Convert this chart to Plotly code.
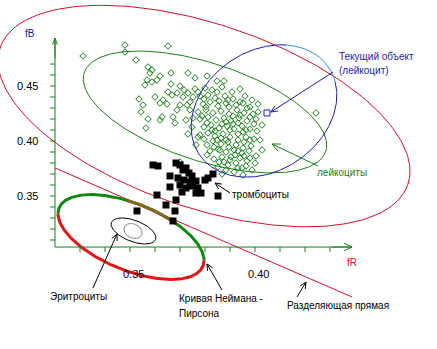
import numpy as np
import plotly.graph_objects as go

# ---------------- data ----------------
# leukocytes (fR, fB)
leuko_x = [0.3312,0.348,0.348,0.3652,0.3524,0.3572,0.3588,0.358,0.362,0.3608,0.3588,0.3568,0.356,0.3664,0.3732,0.376,0.3808,0.3848,0.3876,0.3664,
           0.37,0.3716,0.3652,0.3668,0.3688,0.3632,0.362,0.3648,0.36,0.3536,0.3552,0.3544,0.3628,0.362,0.3572,0.3672,0.368,0.3564,0.3688,0.37,
           0.3728,0.374,0.3752,0.3772,0.376,0.3712,0.3732,0.3732,0.3772,0.3808,0.3848,0.37,0.4244,
           0.38,0.3828,0.3868,0.3908,0.394,
           0.378,0.3812,0.384,0.388,0.3912,0.396,0.3988,
           0.3792,0.382,0.3852,0.3884,0.3924,0.3952,0.398,0.4012,
           0.3772,0.3804,0.3832,0.3864,0.3896,0.3928,0.3956,0.3992,
           0.378,0.3812,0.3844,0.3876,0.3904,0.3936,0.3968,0.4004,0.4028,
           0.3796,0.3824,0.3856,0.3888,0.3916,0.3948,0.398,0.4008,
           0.378,0.3812,0.384,0.3872,0.39,0.3932,0.3964,0.3996,
           0.3832,0.3864,0.3892,0.3924,0.3956,0.3984,
           0.382,0.3852,0.3884,0.3916,0.3948,0.3976,0.4004,
           0.3836,0.3868,0.39,0.394,0.3968,0.4,
           0.3852,0.3892,0.3932,0.3964,0.3988,
           0.3868,0.3916,0.3952,
           0.374,0.3752,0.3748,0.3724,0.3764,0.3808,
           0.3796,0.3856,0.3896,0.394,0.3884,0.3828,0.3912,0.3964,0.3864,0.3932,0.3836,0.3896,0.3952,0.3876,0.392,0.398,
           0.3848,0.3892,0.394,0.3804,0.3968,0.3788,0.3912,0.398,0.3808,0.3868,0.3932,0.3996,0.384,0.39,0.3952,
           0.3796,0.3884,0.398,0.386,0.3932,0.3904,0.3956,0.3856,0.3924,0.3948,0.3884,0.402,0.4028,0.4012]
leuko_y = [0.4773,0.4873,0.4809,0.4864,0.4736,0.4673,0.4645,0.4618,0.4591,0.4555,0.4536,0.4555,0.4509,0.4618,0.4618,0.4573,0.4591,0.4545,0.4545,0.4518,
           0.45,0.4464,0.4445,0.4418,0.4436,0.4373,0.4345,0.4336,0.44,0.4382,0.4327,0.4264,0.4218,0.4191,0.42,0.4218,0.4164,0.4118,0.4282,0.4327,
           0.4327,0.4355,0.44,0.4445,0.4473,0.44,0.4436,0.4064,0.4036,0.3964,0.4009,0.3809,0.4255,
           0.4482,0.4464,0.4491,0.4445,0.4473,
           0.4409,0.4418,0.4391,0.4409,0.4382,0.4409,0.4373,
           0.4336,0.4355,0.4318,0.4345,0.4327,0.4345,0.4309,0.4336,
           0.4264,0.4282,0.4255,0.4273,0.4245,0.4282,0.4255,0.4245,
           0.42,0.4218,0.4191,0.4209,0.4182,0.4209,0.4182,0.42,0.4145,
           0.4127,0.4145,0.4118,0.4136,0.4109,0.4136,0.4109,0.4091,
           0.4055,0.4073,0.4045,0.4064,0.4036,0.4064,0.4036,0.4018,
           0.4,0.3973,0.3991,0.3964,0.3991,0.3955,
           0.3909,0.3927,0.39,0.3918,0.3891,0.3909,0.3864,
           0.3836,0.3855,0.3827,0.3845,0.3818,0.38,
           0.3764,0.3782,0.3755,0.3773,0.3736,
           0.37,0.3718,0.3691,
           0.4282,0.4209,0.4127,0.4191,0.3964,0.3873,
           0.4382,0.4364,0.4309,0.4236,0.4173,0.41,0.4155,0.41,0.4027,0.4009,0.3945,0.3945,0.3936,0.3809,0.3873,0.3845,
           0.4445,0.4373,0.4355,0.4309,0.43,0.4227,0.4227,0.4218,0.4164,0.4155,0.4164,0.4155,0.4091,0.41,0.4082,
           0.4018,0.4009,0.4009,0.3918,0.3909,0.3855,0.3864,0.3809,0.38,0.3755,0.3736,0.4009,0.3918,0.4264]

# thrombocytes (fR, fB)
thromb_x = [0.3592,0.3612,0.3684,0.37,0.3712,0.3736,0.3724,0.366,0.3748,0.3692,0.3716,0.374,0.3764,0.38,0.3812,0.3832,
            0.366,0.37,0.3724,0.3748,0.3772,0.3708,0.3764,0.3784,0.3608,0.3852,0.3684,0.3644,0.3528,0.368,0.3672]
thromb_y = [0.3782,0.3773,0.38,0.3782,0.3736,0.3709,0.3755,0.3682,0.3682,0.3664,0.3645,0.3627,0.3636,0.3645,0.3664,0.37,
            0.3582,0.36,0.3573,0.3591,0.3573,0.3536,0.3527,0.3527,0.3509,0.35,0.3464,0.3418,0.3364,0.3364,0.3273]

# current object
current_x = [0.4048]
current_y = [0.4255]

# ellipses: centre (fR, fB), semi-axes (screen px), tilt (deg)
ell_outer = dict(cx=0.3796, cy=0.4227, a=215, b=92, th=18.5)
ell_leuko = dict(cx=0.3800, cy=0.4264, a=127, b=49, th=18)
ell_curr  = dict(cx=0.4036, cy=0.4273, a=78, b=60, th=-34)
ell_eryth1 = dict(cx=0.3514, cy=0.3182, a=23.7, b=10.6, th=21)
ell_eryth2 = dict(cx=0.3512, cy=0.3182, a=9.5, b=7, th=25)
ell_np = dict(cx=0.3504, cy=0.3127, a=77.6, b=33.4, th=22)

# separating line end points
sep_x = [0.3200, 0.4388]
sep_y = [0.3755, 0.2582]

# axes
x_ticks = [0.33,0.34,0.35,0.36,0.37,0.38,0.39,0.40,0.41,0.42,0.43]
y_ticks = [0.31,0.32,0.33,0.34,0.35,0.36,0.37,0.38,0.39,0.40,0.41,0.42,0.43,0.44,0.45,0.46,0.47]
x_labels = [0.35, 0.40]
y_labels = [0.35, 0.40, 0.45]
x_origin, y_origin = 0.32, 0.3036
x_end, y_end = 0.4388, 0.4936

# ---------------- geometry helpers ----------------
W, H = 437, 349
XR = [0.298, 0.4728]
YR = [0.2109, 0.5282]
KX = W / (XR[1] - XR[0])
KY = H / (YR[1] - YR[0])

RED = '#cc1133'
GREEN = '#1a7f1a'
BLUE = '#1c1cb0'
LIGHTBLUE = '#3f8fe0'
FONT = 'Liberation Sans, Arial, sans-serif'


def ellipse(e, t0=0, t1=360, n=240):
    t = np.radians(np.linspace(t0, t1, n))
    r = np.radians(e['th'])
    x = e['cx'] + (e['a'] * np.cos(r) * np.cos(t) - e['b'] * np.sin(r) * np.sin(t)) / KX
    y = e['cy'] - (e['a'] * np.sin(r) * np.cos(t) + e['b'] * np.cos(r) * np.sin(t)) / KY
    return x, y


fig = go.Figure()


def line(x, y, color, width=1):
    fig.add_trace(go.Scatter(x=list(x), y=list(y), mode='lines', line=dict(color=color, width=width),
                             hoverinfo='skip', showlegend=False))


def arrow(tx, ty, hx, hy, color, L=7, ang=25):
    dx = (hx - tx) * KX
    dy = (hy - ty) * KY
    n = np.hypot(dx, dy)
    ux, uy = dx / n, dy / n
    xs, ys = [tx, hx], [ty, hy]
    for s in (1, -1):
        a = np.radians(ang * s)
        wx = ux * np.cos(a) - uy * np.sin(a)
        wy = ux * np.sin(a) + uy * np.cos(a)
        xs += [None, hx, hx - wx * L / KX]
        ys += [None, hy, hy - wy * L / KY]
    line(xs, ys, color)


# outer red ellipse & separating line
line(*ellipse(ell_outer), RED)
line(sep_x, sep_y, RED)

# leukocyte ellipse
line(*ellipse(ell_leuko), GREEN)

fig.add_trace(go.Scatter(x=leuko_x, y=leuko_y, mode='markers',
                         marker=dict(symbol='diamond-open', size=5, color=GREEN, line=dict(width=1, color=GREEN)),
                         hoverinfo='skip', showlegend=False))

# current object ellipse
line(*ellipse(ell_curr, 15, 315), BLUE)
line(*ellipse(ell_curr, -46, 16), LIGHTBLUE)

# erythrocytes
line(*ellipse(ell_eryth1), 'black')
line(*ellipse(ell_eryth2), '#888888')

# Neyman-Pearson curve (part touching the separating line looks brown)
line(*ellipse(ell_np, 170, 350), '#118811', 3)
line(*ellipse(ell_np, -10, 170), '#e01515', 3)
line(*ellipse(ell_np, 257, 296), '#866420', 3)

fig.add_trace(go.Scatter(x=thromb_x, y=thromb_y, mode='markers',
                         marker=dict(symbol='square', size=7, color='black'),
                         hoverinfo='skip', showlegend=False))

fig.add_trace(go.Scatter(x=current_x, y=current_y, mode='markers',
                         marker=dict(symbol='square-open', size=6, color=BLUE, line=dict(width=1, color=BLUE)),
                         hoverinfo='skip', showlegend=False))

# axes
line([x_origin, x_end], [y_origin, y_origin], GREEN)
line([x_origin, x_origin], [y_origin, y_end], GREEN)
tx, ty = [], []
for v in x_ticks:
    tx += [v, v, None]
    ty += [y_origin, y_origin - 5 / KY, None]
for v in y_ticks:
    tx += [x_origin, x_origin - 5 / KX, None]
    ty += [v, v, None]
line(tx, ty, GREEN)
arrow(x_end - 20 / KX, y_origin, x_end, y_origin, GREEN, L=9, ang=25)
arrow(x_origin, y_end - 20 / KY, x_origin, y_end, GREEN, L=7, ang=20)

# annotation arrows
arrow(0.4312, 0.4627, 0.4064, 0.4264, BLUE)
arrow(0.4252, 0.3773, 0.4068, 0.3973, GREEN, L=9)
arrow(0.3900, 0.3527, 0.3840, 0.3618, 'black')
arrow(0.3352, 0.2664, 0.3448, 0.3155, 'black')
arrow(0.3868, 0.2645, 0.3808, 0.2882, 'black')
arrow(0.4168, 0.2582, 0.4204, 0.2718, 'black')

ann = []


def text(x, y, s, color='black', xa='left', size=10):
    ann.append(dict(x=x, y=y, text=s, showarrow=False, xanchor=xa, yanchor='middle',
                    font=dict(family=FONT, size=size, color=color)))


for v in x_labels:
    text(v + 3 / KX, y_origin - 27 / KY, f'{v:.2f}', xa='center', size=11)
for v in y_labels:
    text(x_origin - 15 / KX, v, f'{v:.2f}', xa='right', size=11)

text(0.4328, 0.4764, 'Текущий объект', BLUE)
text(0.4328, 0.4645, '(лейкоцит)', BLUE)
text(0.4240, 0.3718, 'лейкоциты', GREEN)
text(0.3900, 0.3518, 'тромбоциты')
text(0.3172, 0.2582, 'Эритроциты')
text(0.3688, 0.2564, 'Кривая Неймана -')
text(0.3688, 0.2436, 'Пирсона')
text(0.4120, 0.2500, 'Разделяющая прямая')
text(0.3100, 0.4982, 'fB', BLUE, xa='center')
text(0.4388, 0.2900, 'fR', RED, xa='center')

fig.update_layout(
    width=W, height=H, margin=dict(l=0, r=0, t=0, b=0),
    paper_bgcolor='white', plot_bgcolor='white',
    xaxis=dict(range=XR, visible=False, fixedrange=True),
    yaxis=dict(range=YR, visible=False, fixedrange=True),
    annotations=ann, showlegend=False,
)

fig.write_html('out.html')
